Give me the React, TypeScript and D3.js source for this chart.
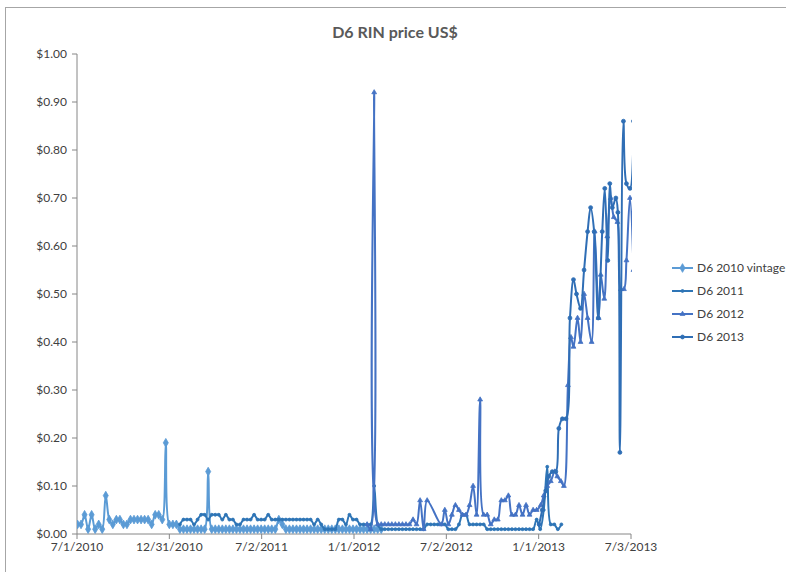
import React from 'react';
import * as d3 from 'd3';

const TITLE = 'D6 RIN price US$';
const SERIES_NAMES = ['D6 2010 vintage', 'D6 2011', 'D6 2012', 'D6 2013'];
const X_TICKS = ['2010-07-01', '2010-12-31', '2011-07-02', '2012-01-01', '2012-07-02', '2013-01-01', '2013-07-03'];
const Y_TICKS = [0, 0.1, 0.2, 0.3, 0.4, 0.5, 0.6, 0.7, 0.8, 0.9, 1.0];

const D6_2010: [string, number][] = [
  ['2010-07-02', 0.02], ['2010-07-09', 0.02], ['2010-07-16', 0.04], ['2010-07-23', 0.01], ['2010-07-30', 0.04],
  ['2010-08-06', 0.01], ['2010-08-13', 0.02], ['2010-08-20', 0.01], ['2010-08-27', 0.08], ['2010-09-03', 0.03],
  ['2010-09-10', 0.02], ['2010-09-17', 0.03], ['2010-09-24', 0.03], ['2010-10-01', 0.02], ['2010-10-08', 0.02],
  ['2010-10-15', 0.03], ['2010-10-22', 0.03], ['2010-10-29', 0.03], ['2010-11-05', 0.03], ['2010-11-12', 0.03],
  ['2010-11-19', 0.03], ['2010-11-26', 0.02], ['2010-12-03', 0.04], ['2010-12-10', 0.04], ['2010-12-17', 0.03],
  ['2010-12-24', 0.19], ['2010-12-31', 0.02], ['2011-01-07', 0.02], ['2011-01-14', 0.02], ['2011-01-21', 0.01],
  ['2011-01-28', 0.01], ['2011-02-04', 0.01], ['2011-02-11', 0.01], ['2011-02-18', 0.01], ['2011-02-25', 0.01],
  ['2011-03-04', 0.01], ['2011-03-11', 0.01], ['2011-03-18', 0.13], ['2011-03-25', 0.01], ['2011-04-01', 0.01],
  ['2011-04-08', 0.01], ['2011-04-15', 0.01], ['2011-04-22', 0.01], ['2011-04-29', 0.01], ['2011-05-06', 0.01],
  ['2011-05-13', 0.01], ['2011-05-20', 0.01], ['2011-05-27', 0.01], ['2011-06-03', 0.01], ['2011-06-10', 0.01],
  ['2011-06-17', 0.01], ['2011-06-24', 0.01], ['2011-07-01', 0.01], ['2011-07-08', 0.01], ['2011-07-15', 0.01],
  ['2011-07-22', 0.01], ['2011-07-29', 0.01], ['2011-08-05', 0.03], ['2011-08-12', 0.02], ['2011-08-19', 0.01],
  ['2011-08-26', 0.01], ['2011-09-02', 0.01], ['2011-09-09', 0.01], ['2011-09-16', 0.01], ['2011-09-23', 0.01],
  ['2011-09-30', 0.01], ['2011-10-07', 0.01], ['2011-10-14', 0.01], ['2011-10-21', 0.01], ['2011-10-28', 0.01],
  ['2011-11-04', 0.01], ['2011-11-11', 0.01], ['2011-11-18', 0.01], ['2011-11-25', 0.01], ['2011-12-02', 0.01],
  ['2011-12-09', 0.01], ['2011-12-16', 0.01], ['2011-12-23', 0.01], ['2011-12-30', 0.01], ['2012-01-06', 0.01],
  ['2012-01-13', 0.01], ['2012-01-20', 0.01], ['2012-01-27', 0.01], ['2012-02-03', 0.01], ['2012-02-10', 0.01],
  ['2012-02-17', 0.01], ['2012-02-24', 0.01],
];

const D6_2011: [string, number][] = [
  ['2011-01-21', 0.02], ['2011-01-28', 0.03], ['2011-02-04', 0.03], ['2011-02-11', 0.03], ['2011-02-18', 0.02],
  ['2011-02-25', 0.03], ['2011-03-04', 0.04], ['2011-03-11', 0.04], ['2011-03-18', 0.03], ['2011-03-25', 0.04],
  ['2011-04-01', 0.04], ['2011-04-08', 0.04], ['2011-04-15', 0.03], ['2011-04-22', 0.04], ['2011-04-29', 0.03],
  ['2011-05-06', 0.03], ['2011-05-13', 0.02], ['2011-05-20', 0.02], ['2011-05-27', 0.03], ['2011-06-03', 0.03],
  ['2011-06-10', 0.03], ['2011-06-17', 0.04], ['2011-06-24', 0.03], ['2011-07-01', 0.03], ['2011-07-08', 0.03],
  ['2011-07-15', 0.04], ['2011-07-22', 0.03], ['2011-07-29', 0.03], ['2011-08-05', 0.03], ['2011-08-12', 0.03],
  ['2011-08-19', 0.03], ['2011-08-26', 0.03], ['2011-09-02', 0.03], ['2011-09-09', 0.03], ['2011-09-16', 0.03],
  ['2011-09-23', 0.03], ['2011-09-30', 0.03], ['2011-10-07', 0.03], ['2011-10-14', 0.02], ['2011-10-21', 0.03],
  ['2011-10-28', 0.02], ['2011-11-04', 0.01], ['2011-11-11', 0.01], ['2011-11-18', 0.01], ['2011-11-25', 0.01],
  ['2011-12-02', 0.03], ['2011-12-09', 0.03], ['2011-12-16', 0.02], ['2011-12-23', 0.04], ['2011-12-30', 0.03],
  ['2012-01-06', 0.03], ['2012-01-13', 0.02], ['2012-01-20', 0.02], ['2012-01-27', 0.02], ['2012-02-03', 0.02],
  ['2012-02-10', 0.10], ['2012-02-17', 0.02], ['2012-02-24', 0.01], ['2012-03-02', 0.01], ['2012-03-09', 0.01],
  ['2012-03-16', 0.01], ['2012-03-23', 0.01], ['2012-03-30', 0.01], ['2012-04-06', 0.01], ['2012-04-13', 0.01],
  ['2012-04-20', 0.01], ['2012-04-27', 0.01], ['2012-05-04', 0.01], ['2012-05-11', 0.01], ['2012-05-18', 0.01],
  ['2012-05-25', 0.02], ['2012-06-01', 0.02], ['2012-06-08', 0.02], ['2012-06-15', 0.02], ['2012-06-22', 0.02],
  ['2012-06-29', 0.02], ['2012-07-06', 0.01], ['2012-07-13', 0.01], ['2012-07-20', 0.01], ['2012-07-27', 0.02],
  ['2012-08-03', 0.04], ['2012-08-10', 0.04], ['2012-08-17', 0.02], ['2012-08-24', 0.02], ['2012-08-31', 0.02],
  ['2012-09-07', 0.02], ['2012-09-14', 0.02], ['2012-09-21', 0.01], ['2012-09-28', 0.01], ['2012-10-05', 0.01],
  ['2012-10-12', 0.01], ['2012-10-19', 0.01], ['2012-10-26', 0.01], ['2012-11-02', 0.01], ['2012-11-09', 0.01],
  ['2012-11-16', 0.01], ['2012-11-23', 0.01], ['2012-11-30', 0.01], ['2012-12-07', 0.01], ['2012-12-14', 0.01],
  ['2012-12-21', 0.01], ['2012-12-28', 0.03], ['2013-01-04', 0.01], ['2013-01-11', 0.05], ['2013-01-18', 0.14],
  ['2013-01-25', 0.02], ['2013-02-01', 0.02], ['2013-02-08', 0.01], ['2013-02-15', 0.02],
];

const D6_2012: [string, number][] = [
  ['2012-01-27', 0.02], ['2012-02-03', 0.01], ['2012-02-10', 0.92], ['2012-02-17', 0.02], ['2012-02-24', 0.02],
  ['2012-03-02', 0.02], ['2012-03-09', 0.02], ['2012-03-16', 0.02], ['2012-03-23', 0.02], ['2012-03-30', 0.02],
  ['2012-04-06', 0.02], ['2012-04-13', 0.02], ['2012-04-20', 0.02], ['2012-04-27', 0.03], ['2012-05-04', 0.02],
  ['2012-05-11', 0.07], ['2012-05-18', 0.01], ['2012-05-25', 0.07], ['2012-06-22', 0.02], ['2012-06-29', 0.05],
  ['2012-07-06', 0.02], ['2012-07-13', 0.04], ['2012-07-20', 0.06], ['2012-07-27', 0.05], ['2012-08-03', 0.04],
  ['2012-08-10', 0.04], ['2012-08-17', 0.06], ['2012-08-24', 0.10], ['2012-08-31', 0.04], ['2012-09-07', 0.28],
  ['2012-09-14', 0.04], ['2012-09-21', 0.04], ['2012-09-28', 0.02], ['2012-10-05', 0.03], ['2012-10-12', 0.03],
  ['2012-10-19', 0.07], ['2012-10-26', 0.07], ['2012-11-02', 0.08], ['2012-11-09', 0.04], ['2012-11-16', 0.04],
  ['2012-11-23', 0.06], ['2012-11-30', 0.04], ['2012-12-07', 0.06], ['2012-12-14', 0.04], ['2012-12-21', 0.05],
  ['2012-12-28', 0.05], ['2013-01-05', 0.06], ['2013-01-11', 0.08], ['2013-01-18', 0.10], ['2013-01-25', 0.11],
  ['2013-02-02', 0.13], ['2013-02-07', 0.12], ['2013-02-14', 0.11], ['2013-02-20', 0.10], ['2013-02-28', 0.31],
  ['2013-03-06', 0.41], ['2013-03-11', 0.39], ['2013-03-19', 0.45], ['2013-03-25', 0.40], ['2013-04-01', 0.50],
  ['2013-04-08', 0.45], ['2013-04-16', 0.40], ['2013-04-22', 0.63], ['2013-04-30', 0.45], ['2013-05-04', 0.54],
  ['2013-05-11', 0.49], ['2013-05-17', 0.62], ['2013-05-24', 0.70], ['2013-05-30', 0.66], ['2013-06-06', 0.65],
  ['2013-06-13', 0.51], ['2013-06-19', 0.51], ['2013-06-24', 0.57], ['2013-07-01', 0.70], ['2013-07-08', 0.55],
];

const D6_2013: [string, number][] = [
  ['2013-01-02', 0.02], ['2013-01-08', 0.05], ['2013-01-15', 0.09], ['2013-01-21', 0.12], ['2013-01-28', 0.13],
  ['2013-02-04', 0.13], ['2013-02-10', 0.22], ['2013-02-17', 0.24], ['2013-02-24', 0.24], ['2013-03-04', 0.45],
  ['2013-03-11', 0.53], ['2013-03-17', 0.50], ['2013-03-25', 0.47], ['2013-04-01', 0.55], ['2013-04-08', 0.63],
  ['2013-04-14', 0.68], ['2013-04-21', 0.63], ['2013-04-29', 0.45], ['2013-05-07', 0.63], ['2013-05-12', 0.72],
  ['2013-05-18', 0.57], ['2013-05-22', 0.73], ['2013-05-27', 0.68], ['2013-06-03', 0.70], ['2013-06-07', 0.67],
  ['2013-06-11', 0.17], ['2013-06-18', 0.86], ['2013-06-24', 0.73], ['2013-07-01', 0.72], ['2013-07-08', 0.86],
];

const SERIES_DATA = [D6_2010, D6_2011, D6_2012, D6_2013];
const COLORS = ['#5B9BD5', '#2E75B6', '#4472C4', '#2F6EB5'];
const SYMBOLS = [d3.symbolDiamond, d3.symbolCircle, d3.symbolTriangle, d3.symbolCircle];
const SYMBOL_SIZES = [22, 7, 10, 12];

const W = 786;
const H = 572;
const M = { left: 77, right: 631, top: 54, bottom: 534 };
const FONT = 'Lato, "Open Sans", sans-serif';

const parse = d3.timeParse('%Y-%m-%d');
const fmtTick = (d: Date) => `${d.getMonth() + 1}/${d.getDate()}/${d.getFullYear()}`;

export default function App() {
  const x = d3
    .scaleTime()
    .domain([parse(X_TICKS[0]) as Date, parse(X_TICKS[X_TICKS.length - 1]) as Date])
    .range([M.left, M.right]);
  const y = d3.scaleLinear().domain([0, 1]).range([M.bottom, M.top]);

  const line = d3
    .line<[Date, number]>()
    .x((d) => x(d[0]))
    .y((d) => y(d[1]))
    .curve(d3.curveCatmullRom.alpha(0.5));

  const series = SERIES_DATA.map((arr) => arr.map(([d, v]) => [parse(d) as Date, v] as [Date, number]));

  return (
    <div style={{ position: 'absolute', left: 0, top: 0 }}>
      <svg width={W} height={H} style={{ display: 'block', background: '#fff' }}>
        <rect x={0} y={0} width={W} height={H} fill="#fff" />
        <rect x={5.5} y={7.5} width={W + 20} height={H + 20} fill="none" stroke="#A6A6A6" strokeWidth={1} />
        <defs>
          <clipPath id="plotclip">
            <rect x={M.left} y={M.top - 10} width={M.right - M.left + 1} height={M.bottom - M.top + 12} />
          </clipPath>
        </defs>
        <text x={395} y={38} textAnchor="middle" fontFamily={FONT} fontSize={16} fontWeight="bold" fill="#595959">
          {TITLE}
        </text>
        {/* Y axis */}
        <line x1={M.left} x2={M.left} y1={M.top} y2={M.bottom} stroke="#868686" strokeWidth={1} />
        {Y_TICKS.map((t) => (
          <g key={t}>
            <line x1={M.left - 5} x2={M.left} y1={y(t)} y2={y(t)} stroke="#868686" />
            <text
              x={M.left - 10}
              y={y(t)}
              dy="0.35em"
              textAnchor="end"
              fontFamily={FONT}
              fontSize={12}
              fill="#404040"
            >
              {d3.format('$.2f')(t)}
            </text>
          </g>
        ))}
        {/* X axis */}
        <line x1={M.left} x2={M.right} y1={M.bottom} y2={M.bottom} stroke="#868686" strokeWidth={1} />
        {X_TICKS.map((s) => {
          const d = parse(s) as Date;
          return (
            <g key={s}>
              <line x1={x(d)} x2={x(d)} y1={M.bottom} y2={M.bottom + 5} stroke="#868686" />
              <text x={x(d)} y={M.bottom + 17} textAnchor="middle" fontFamily={FONT} fontSize={12} fill="#404040">
                {fmtTick(d)}
              </text>
            </g>
          );
        })}
        {/* Series */}
        <g clipPath="url(#plotclip)">
          {series.map((s, i) => (
            <g key={SERIES_NAMES[i]}>
              <path d={line(s) || ''} fill="none" stroke={COLORS[i]} strokeWidth={2} strokeLinejoin="round" />
              {s.map((p, j) => (
                <path
                  key={j}
                  d={d3.symbol().type(SYMBOLS[i]).size(SYMBOL_SIZES[i])() || ''}
                  transform={`translate(${x(p[0])},${y(p[1])})`}
                  fill={COLORS[i]}
                  stroke={COLORS[i]}
                  strokeWidth={0.8}
                />
              ))}
            </g>
          ))}
        </g>
        {/* Legend */}
        {SERIES_NAMES.map((n, i) => {
          const ly = 268 + i * 23;
          return (
            <g key={n}>
              <line x1={672} x2={693} y1={ly} y2={ly} stroke={COLORS[i]} strokeWidth={2} />
              <path
                d={d3.symbol().type(SYMBOLS[i]).size(SYMBOL_SIZES[i])() || ''}
                transform={`translate(682.5,${ly})`}
                fill={COLORS[i]}
                stroke={COLORS[i]}
                strokeWidth={0.8}
              />
              <text x={697} y={ly} dy="0.35em" fontFamily={FONT} fontSize={12} fill="#404040">
                {n}
              </text>
            </g>
          );
        })}
      </svg>
    </div>
  );
}
